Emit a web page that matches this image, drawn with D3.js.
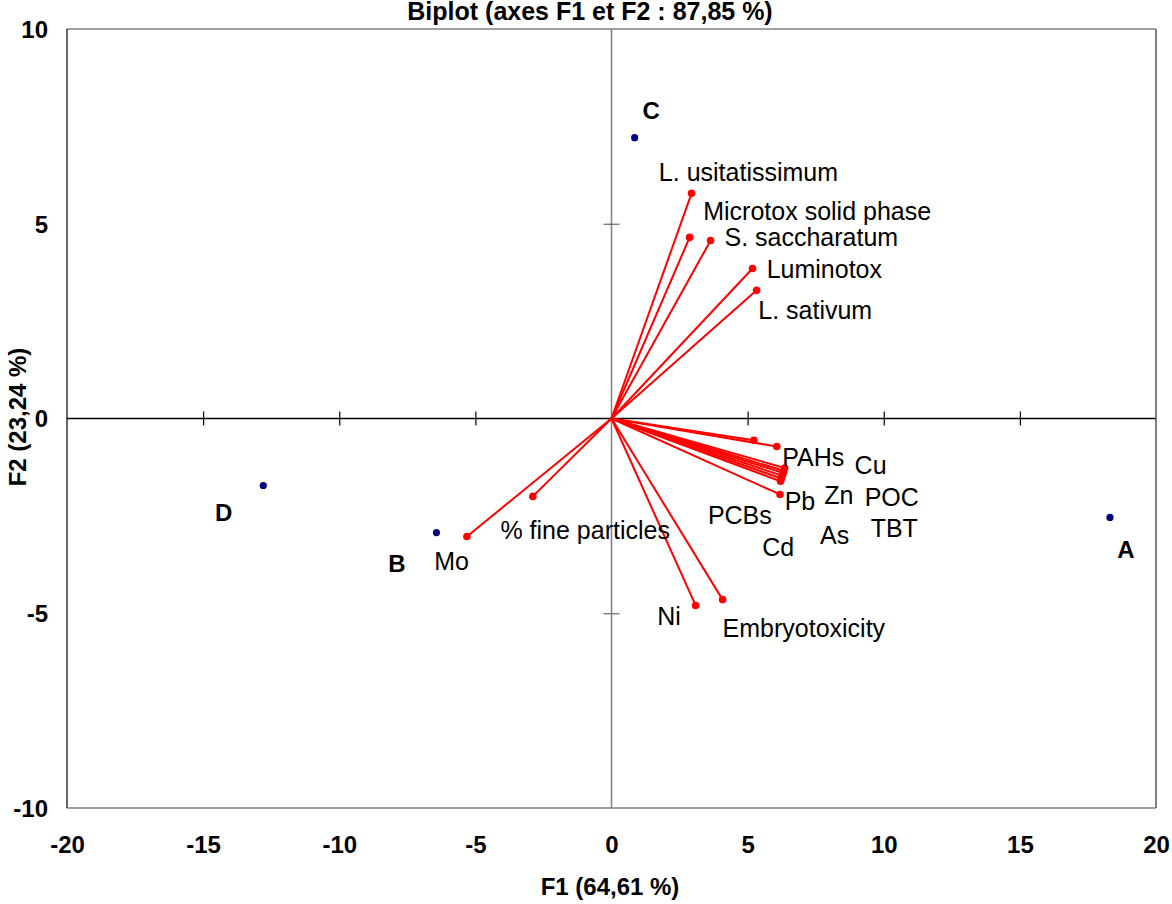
<!DOCTYPE html>
<html>
<head>
<meta charset="utf-8">
<script src="https://cdn.jsdelivr.net/npm/d3@7"></script>
<style>
  html, body { margin: 0; padding: 0; background: #fff; }
  svg { display: block; font-family: Arial, "Liberation Sans", sans-serif; }
</style>
</head>
<body>
<svg id="chart" width="1172" height="904"></svg>
<script>
// ---------- data ----------
const titleText = "Biplot (axes F1 et F2 : 87,85 %)";
const xTitle = "F1 (64,61 %)";
const yTitle = "F2 (23,24 %)";
const xTicks = [-20, -15, -10, -5, 0, 5, 10, 15, 20];
const yTicks = [-10, -5, 0, 5, 10];

// observations (sites)
const obsNames = ["A", "B", "C", "D"];
const obsF1 = [18.31, -6.43, 0.85, -12.79];
const obsF2 = [-2.54, -2.93, 7.21, -1.72];
// label anchors (data units, start / baseline)
const obsLabelF1 = [18.58, -8.2, 1.14, -14.56];
const obsLabelF2 = [-3.59, -3.95, 7.70, -2.62];

// variables (vectors)
const varNames = ["L. usitatissimum", "Microtox solid phase", "S. saccharatum", "Luminotox", "L. sativum",
  "% fine particles", "Mo", "Ni", "Embryotoxicity",
  "PAHs", "Cu", "Zn", "POC", "TBT", "PCBs", "As", "Cd", "Pb"];
const varF1 = [2.94, 2.87, 3.64, 5.18, 5.33,
  -2.89, -5.31, 3.09, 4.08,
  6.07, 5.23, 6.36, 6.33, 6.31, 6.27, 6.24, 6.21, 6.19];
const varF2 = [5.78, 4.65, 4.57, 3.85, 3.29,
  -2.00, -3.03, -4.80, -4.65,
  -0.72, -0.56, -1.27, -1.34, -1.40, -1.47, -1.54, -1.61, -1.95];
// label anchors (data units, start / baseline)
const varLabelF1 = [1.74, 3.37, 4.15, 5.70, 5.39,
  -4.08, -6.51, 1.68, 4.08,
  6.27, 8.93, 7.81, 9.30, 9.52, 3.54, 7.66, 5.54, 6.36];
const varLabelF2 = [6.11, 5.10, 4.44, 3.60, 2.56,
  -3.09, -3.88, -5.30, -5.60,
  -1.21, -1.42, -2.19, -2.25, -3.03, -2.70, -3.23, -3.52, -2.34];

// ---------- drawing ----------
const svg = d3.select("#chart");
const x = d3.scaleLinear().domain([-20, 20]).range([67, 1156]);
const y = d3.scaleLinear().domain([-10, 10]).range([808, 29]);
const fontSize = 24;
const labelSize = 25;
const fmt = d => String(d);

// zero lines
svg.append("line").attr("x1", x(0)).attr("x2", x(0)).attr("y1", y(10)).attr("y2", y(-10))
  .attr("stroke", "#808080").attr("stroke-width", 1.5);
svg.append("line").attr("x1", x(-20)).attr("x2", x(20)).attr("y1", y(0)).attr("y2", y(0))
  .attr("stroke", "#000").attr("stroke-width", 1.5);

// tick marks on zero lines (both sides)
const inner = xTicks.filter(v => v !== 0 && Math.abs(v) !== 20);
const tickX = d3.axisBottom(x).tickValues(inner).tickSizeInner(7).tickSizeOuter(0).tickFormat("");
const tickX2 = d3.axisTop(x).tickValues(inner).tickSizeInner(7).tickSizeOuter(0).tickFormat("");
[tickX, tickX2].forEach(ax => {
  const g = svg.append("g").attr("transform", `translate(0,${y(0)})`).call(ax);
  g.select(".domain").remove();
  g.selectAll("line").attr("stroke", "#000").attr("stroke-width", 1.2);
});
const innerY = yTicks.filter(v => v !== 0 && Math.abs(v) !== 10);
const tickY = d3.axisLeft(y).tickValues(innerY).tickSizeInner(8).tickSizeOuter(0).tickFormat("");
const tickY2 = d3.axisRight(y).tickValues(innerY).tickSizeInner(8).tickSizeOuter(0).tickFormat("");
[tickY, tickY2].forEach(ax => {
  const g = svg.append("g").attr("transform", `translate(${x(0)},0)`).call(ax);
  g.select(".domain").remove();
  g.selectAll("line").attr("stroke", "#666").attr("stroke-width", 1.2);
});

// frame
svg.append("line").attr("x1", x(-20)).attr("x2", x(20)).attr("y1", y(10)).attr("y2", y(10)).attr("stroke", "#808080").attr("stroke-width", 1.5);
svg.append("line").attr("x1", x(-20)).attr("x2", x(20)).attr("y1", y(-10)).attr("y2", y(-10)).attr("stroke", "#808080").attr("stroke-width", 1.5);
svg.append("line").attr("x1", x(-20)).attr("x2", x(-20)).attr("y1", y(10)).attr("y2", y(-10)).attr("stroke", "#000").attr("stroke-width", 1.2);
svg.append("line").attr("x1", x(20)).attr("x2", x(20)).attr("y1", y(10)).attr("y2", y(-10)).attr("stroke", "#555").attr("stroke-width", 1.5);

// tick labels
const axB = d3.axisBottom(x).tickValues(xTicks).tickSize(0).tickPadding(0).tickFormat(fmt);
const gB = svg.append("g").attr("transform", `translate(0,${y(-10)})`).call(axB);
gB.select(".domain").remove();
gB.selectAll("text").attr("dy", null).attr("y", 45)
  .style("font-size", fontSize + "px").style("font-weight", "bold").attr("fill", "#000")
  .style("font-family", "Arial, 'Liberation Sans', sans-serif");

const axL = d3.axisLeft(y).tickValues(yTicks).tickSize(0).tickPadding(0).tickFormat(fmt);
const gL = svg.append("g").attr("transform", `translate(48,0)`).call(axL);
gL.select(".domain").remove();
gL.selectAll("text").attr("x", 0).attr("dy", "0.35em")
  .style("font-size", fontSize + "px").style("font-weight", "bold").attr("fill", "#000")
  .style("font-family", "Arial, 'Liberation Sans', sans-serif");

// title and axis titles
svg.append("text").attr("x", 590).attr("y", 20).attr("text-anchor", "middle")
  .style("font-size", "25px").style("font-weight", "bold").text(titleText);
svg.append("text").attr("x", 610).attr("y", 895).attr("text-anchor", "middle")
  .style("font-size", "24px").style("font-weight", "bold").text(xTitle);
svg.append("text").attr("transform", `translate(26,${417}) rotate(-90)`).attr("text-anchor", "middle")
  .style("font-size", "24px").style("font-weight", "bold").text(yTitle);

// variable vectors
const vars = varNames.map((n, i) => ({ name: n, f1: varF1[i], f2: varF2[i], lx: varLabelF1[i], ly: varLabelF2[i] }));
svg.append("g").selectAll("line").data(vars).join("line")
  .attr("x1", x(0)).attr("y1", y(0))
  .attr("x2", d => x(d.f1)).attr("y2", d => y(d.f2))
  .attr("stroke", "#ff0000").attr("stroke-width", 2);
svg.append("g").selectAll("circle").data(vars).join("circle")
  .attr("cx", d => x(d.f1)).attr("cy", d => y(d.f2)).attr("r", 3.8).attr("fill", "#ff0000");
svg.append("g").selectAll("text").data(vars).join("text")
  .attr("x", d => x(d.lx)).attr("y", d => y(d.ly))
  .style("font-size", labelSize + "px").attr("fill", "#000").text(d => d.name);

// observations
const obs = obsNames.map((n, i) => ({ name: n, f1: obsF1[i], f2: obsF2[i], lx: obsLabelF1[i], ly: obsLabelF2[i] }));
svg.append("g").selectAll("circle").data(obs).join("circle")
  .attr("cx", d => x(d.f1)).attr("cy", d => y(d.f2)).attr("r", 3.6).attr("fill", "#000080");
svg.append("g").selectAll("text").data(obs).join("text")
  .attr("x", d => x(d.lx)).attr("y", d => y(d.ly))
  .style("font-size", fontSize + "px").style("font-weight", "bold").attr("fill", "#000").text(d => d.name);
</script>
</body>
</html>
